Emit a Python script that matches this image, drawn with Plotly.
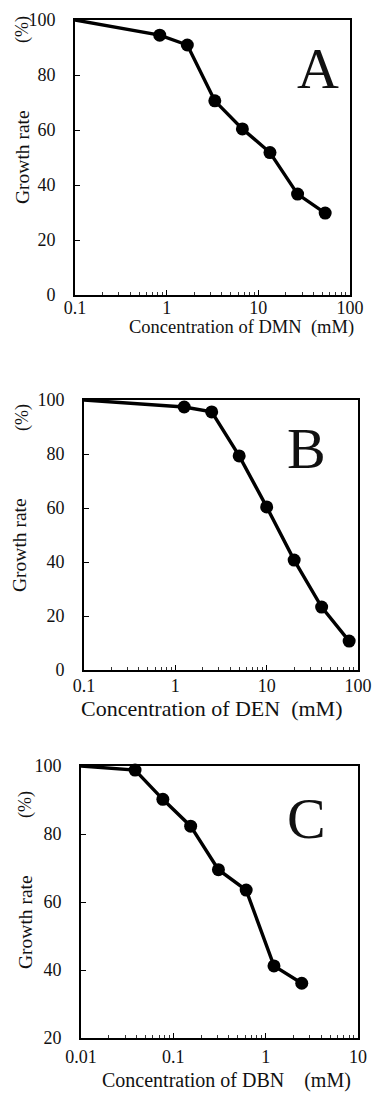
import plotly.graph_objects as go

W, H = 375, 1098

# ---- data ----
conc_dmn = [0.1, 0.84, 1.68, 3.35, 6.7, 13.4, 26.8, 53.6]
growth_dmn = [100, 94.5, 90.9, 70.6, 60.4, 51.8, 36.7, 29.8]

conc_den = [0.1, 1.25, 2.5, 5.0, 10.0, 20.0, 40.0, 80.0]
growth_den = [100, 97.4, 95.6, 79.3, 60.4, 40.7, 23.3, 10.7]

conc_dbn = [0.01, 0.0385, 0.077, 0.154, 0.308, 0.615, 1.23, 2.46]
growth_dbn = [100, 98.8, 90.2, 82.3, 69.5, 63.5, 41.2, 36.1]

x_ticks_ab = [0.1, 1, 10, 100]
x_ticks_c = [0.01, 0.1, 1, 10]
y_ticks_ab = [0, 20, 40, 60, 80, 100]
y_ticks_c = [20, 40, 60, 80, 100]

panels = [
    dict(x=conc_dmn, y=growth_dmn, letter="A", title="Concentration of DMN&nbsp;&nbsp;(mM)",
         box=(75, 350, 20, 295), xr=[-1, 2], yr=[0, 100], xt=x_ticks_ab, yt=y_ticks_ab,
         letter_pos=(318, 68), title_pos=(241, 327), title_size=18.5, xstand=-4,
         gr_pos=(22, 157), pct_pos=(22, 30)),
    dict(x=conc_den, y=growth_den, letter="B", title="Concentration of DEN&nbsp;&nbsp;(mM)",
         box=(84, 358, 400, 670), xr=[-1, 2], yr=[0, 100], xt=x_ticks_ab, yt=y_ticks_ab,
         letter_pos=(306, 448), title_pos=(212, 708), title_size=22, xstand=-1,
         gr_pos=(20, 545), pct_pos=(22, 418)),
    dict(x=conc_dbn, y=growth_dbn, letter="C", title="Concentration of DBN&nbsp;&nbsp;&nbsp;&nbsp;(mM)",
         box=(81, 358, 766, 1038), xr=[-2, 1], yr=[20, 100], xt=x_ticks_c, yt=y_ticks_c,
         letter_pos=(306, 818), title_pos=(227, 1080), title_size=20, xstand=2,
         gr_pos=(25, 922), pct_pos=(25, 805)),
]

FONT = '"Liberation Serif", "Times New Roman", serif'
fig = go.Figure()
annotations = []

def px(x):
    return x / W

def py(y):
    return 1 - y / H

for i, p in enumerate(panels):
    n = "" if i == 0 else str(i + 1)
    xa, ya = "x" + n, "y" + n
    sizes = [0] + [13] * (len(p["x"]) - 1)
    fig.add_trace(go.Scatter(
        x=p["x"], y=p["y"], mode="lines+markers",
        line=dict(color="black", width=3.4),
        marker=dict(color="black", size=sizes, opacity=1,
                    line=dict(width=0, color="black")),
        xaxis=xa, yaxis=ya, showlegend=False, cliponaxis=False))
    l, r, t, b = p["box"]
    fig.layout["xaxis" + n] = dict(
        type="log", range=p["xr"], domain=[px(l), px(r)], anchor=ya, automargin=False,
        tickvals=p["xt"], ticktext=[("%g" % v) for v in p["xt"]],
        ticks="inside", ticklen=5, tickwidth=1.3, tickcolor="black",
        minor=dict(ticks="inside", ticklen=3, tickwidth=0.8, tickcolor="#333",
                   dtick="D1"),
        showline=True, linewidth=1.6, linecolor="black", mirror=True,
        showgrid=False, zeroline=False, ticklabelstandoff=p["xstand"],
        tickfont=dict(family=FONT, size=18, color="#111"))
    fig.layout["yaxis" + n] = dict(
        range=p["yr"], domain=[py(b), py(t)], anchor=xa, automargin=False,
        tickvals=p["yt"], ticks="inside", ticklen=5, tickwidth=1.3, tickcolor="black",
        showline=True, linewidth=1.6, linecolor="black", mirror=True,
        showgrid=False, zeroline=False, ticklabelstandoff=14,
        tickfont=dict(family=FONT, size=18, color="#111"))
    lx, ly = p["letter_pos"]
    annotations.append(dict(text=p["letter"], x=px(lx), y=py(ly), xref="paper", yref="paper",
                            showarrow=False, xanchor="center", yanchor="middle",
                            font=dict(family=FONT, size=58, color="#111")))
    tx, ty = p["title_pos"]
    annotations.append(dict(text=p["title"], x=px(tx), y=py(ty), xref="paper", yref="paper",
                            showarrow=False, xanchor="center", yanchor="middle",
                            font=dict(family=FONT, size=p["title_size"], color="#111")))
    gx, gy = p["gr_pos"]
    annotations.append(dict(text="Growth rate", x=px(gx), y=py(gy), xref="paper", yref="paper",
                            showarrow=False, textangle=-90, xanchor="center", yanchor="middle",
                            font=dict(family=FONT, size=19.5, color="#111")))
    cx, cy = p["pct_pos"]
    annotations.append(dict(text="(%)", x=px(cx), y=py(cy), xref="paper", yref="paper",
                            showarrow=False, textangle=-90, xanchor="center", yanchor="middle",
                            font=dict(family=FONT, size=18, color="#111")))

fig.update_layout(template="none", width=W, height=H, margin=dict(l=0, r=0, t=0, b=0),
                  paper_bgcolor="white", plot_bgcolor="white",
                  annotations=annotations, showlegend=False)

fig.write_html(
    "out.html",
    config={"displayModeBar": False},
    post_script="document.body.style.margin='0';document.body.style.overflow='hidden';",
)
